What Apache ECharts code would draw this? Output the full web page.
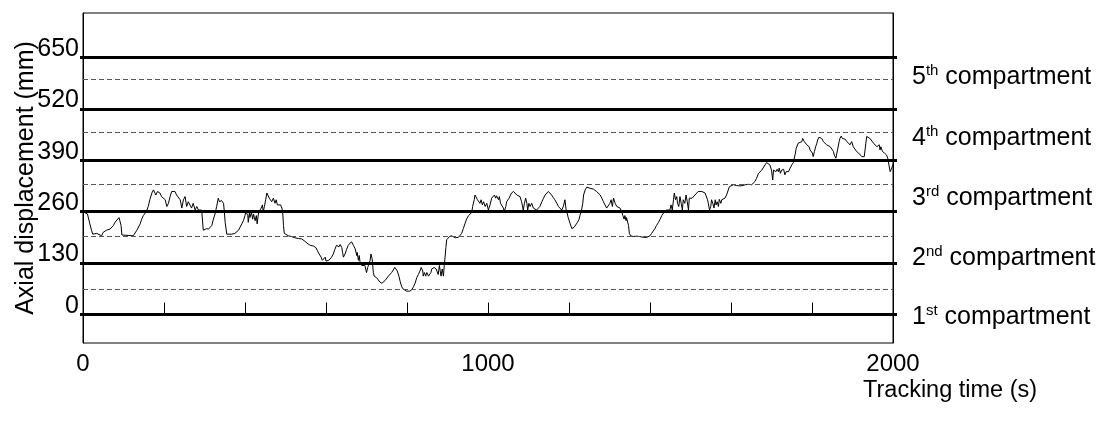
<!DOCTYPE html>
<html><head><meta charset="utf-8">
<script src="https://cdn.jsdelivr.net/npm/echarts@6/dist/echarts.min.js"></script>
<style>html,body{margin:0;padding:0;background:#fff}#c{width:1103px;height:425px}</style>
</head><body><div id="c"></div>
<script>
// [tracking time (s), axial displacement (mm)]
const trace = [
[0,260],[11,254],[17,229],[21,213],[24,203],[34,205],[38,201],[46,199],[50,208],[58,213],[67,216],[75,225],[79,233],[83,237],[89,245],[91,237],[94,225],[96,201],[124,199],[128,203],[133,213],[141,229],[145,241],[149,250],[157,261],[161,273],[165,290],[170,307],[174,315],[178,311],[180,302],[184,311],[190,307],[194,298],[198,302],[203,290],[207,273],[211,281],[215,298],[219,311],[223,307],[227,311],[231,302],[235,298],[240,290],[244,269],[248,290],[252,298],[256,273],[260,285],[264,290],[268,269],[272,281],[277,264],[281,273],[285,264],[289,269],[293,264],[296,261],[297,213],[301,209],[305,217],[310,216],[314,221],[318,225],[322,241],[326,254],[330,273],[334,294],
[337,285],[340,281],[342,288],[347,281],[349,260],[351,233],[355,203],[359,199],[367,203],[375,205],[379,205],[384,213],[388,221],[392,229],[396,237],[400,250],[402,260],[404,264],[407,250],[408,233],[411,258],[412,245],[416,258],[419,241],[421,254],[425,237],[428,250],[430,229],[433,254],[435,260],[440,269],[443,277],[445,260],[448,273],[451,290],[454,307],[456,311],[458,307],[460,294],[462,298],[466,285],[470,294],[474,281],[477,290],[480,277],[484,281],[488,277],[491,269],[493,260],[495,225],[497,205],[500,201],[507,199],[515,197],[523,194],[532,192],[540,191],[544,189],[548,185],[552,180],[556,178],[561,175],[565,177],[569,173],[573,175],[575,169],[579,161],[583,153],[588,145],[591,137],[593,132],[598,145],[600,135],[604,135],[607,137],[610,141],[614,145],[618,153],[622,165],[626,175],[629,180],[632,171],[635,177],[639,169],[641,157],[643,145],[647,153],[651,165],[655,175],[659,180],[663,184],
[668,174],[672,166],[676,149],[677,157],[680,137],[682,149],[684,133],[688,124],[692,128],[696,124],[700,106],[703,119],[706,128],[709,137],[711,153],[714,141],[715,128],[717,106],[719,97],[721,97],[725,93],[729,88],[733,82],[738,79],[742,84],[746,86],[750,91],[754,97],[758,101],[762,106],[766,110],[770,119],[773,124],[776,110],[780,97],[783,84],[787,70],[791,64],[795,62],[799,59],[803,57],[807,59],[812,63],[816,70],[820,79],[824,93],[828,101],[832,110],[835,119],[836,124],[839,110],[840,97],[843,106],[846,97],[849,106],[853,97],[855,101],[859,106],[861,115],[863,110],[867,119],[869,124],[872,115],[875,119],[877,101],[880,124],[882,110],[884,97],[887,115],[890,97],[892,124],[894,145],[896,169],[898,189],[901,194],[905,197],[910,199],[919,194],[927,195],[931,197],[935,205],[939,217],[943,229],[947,241],[952,250],[956,251],[960,258],[962,273],[966,290],[968,302],[970,298],[974,290],[976,294],[980,281],[983,290],[986,277],[989,285],[993,273],[997,281],[1001,264],[1005,277],
[1009,294],[1013,290],[1016,302],[1019,294],[1021,300],[1026,290],[1028,298],[1031,281],[1034,277],[1038,269],[1040,260],[1044,273],[1046,285],[1049,281],[1052,294],[1055,298],[1058,307],[1063,311],[1067,307],[1071,302],[1075,305],[1079,298],[1083,285],[1087,264],[1090,281],[1093,294],[1096,281],[1098,264],[1101,281],[1104,273],[1108,281],[1112,269],[1116,273],[1120,264],[1124,264],[1128,273],[1133,285],[1137,294],[1141,302],[1145,307],[1149,311],[1153,308],[1157,302],[1161,296],[1165,290],[1170,281],[1174,273],[1178,269],[1182,264],[1186,273],[1190,290],[1193,264],[1196,254],[1198,245],[1201,250],[1203,229],[1207,217],[1209,215],[1213,221],[1217,225],[1221,233],[1225,241],[1227,250],[1231,264],[1234,281],[1236,302],[1240,315],[1244,322],[1248,323],[1252,319],[1256,319],[1260,317],[1264,313],[1268,311],[1272,307],[1277,302],[1281,294],[1285,285],[1289,277],[1293,269],[1297,264],[1301,281],[1304,290],[1307,273],[1310,294],[1314,281],[1318,273],[1322,269],
[1326,269],[1330,260],[1333,250],[1336,241],[1338,250],[1341,237],[1342,245],[1344,250],[1347,225],[1349,205],[1352,199],[1359,197],[1367,198],[1375,197],[1384,195],[1392,195],[1396,197],[1400,199],[1404,205],[1408,211],[1412,217],[1416,225],[1421,233],[1425,241],[1429,250],[1433,256],[1437,260],[1441,264],[1445,269],[1449,264],[1452,277],[1455,264],[1458,290],[1460,307],[1463,290],[1466,298],[1468,281],[1471,273],[1474,298],[1477,281],[1480,264],[1482,290],[1486,281],[1489,302],[1492,285],[1495,264],[1497,294],[1500,290],[1504,294],[1507,298],[1511,302],[1515,307],[1519,311],[1523,315],[1528,311],[1532,307],[1536,307],[1538,302],[1542,290],[1544,281],[1547,264],[1550,273],[1552,290],[1555,281],[1558,269],[1561,290],[1563,277],[1566,285],[1569,273],[1571,291],[1575,281],[1577,290],[1581,290],[1585,294],[1589,302],[1593,307],[1596,323],[1599,328],[1606,328],[1614,326],[1622,325],[1626,328],[1630,326],[1635,328],[1639,328],[1643,329],[1647,325],[1651,328],[1655,332],[1659,336],
[1663,344],[1668,357],[1672,361],[1676,365],[1680,370],[1684,378],[1688,384],[1692,387],[1696,378],[1700,365],[1703,340],[1705,365],[1709,370],[1711,361],[1714,367],[1717,361],[1719,370],[1722,357],[1725,365],[1728,361],[1730,367],[1733,353],[1736,361],[1738,365],[1742,361],[1746,370],[1750,378],[1754,384],[1756,387],[1759,408],[1761,420],[1764,424],[1766,433],[1770,429],[1775,437],[1777,445],[1780,450],[1781,437],[1784,433],[1787,429],[1789,433],[1793,424],[1795,416],[1798,420],[1801,408],[1803,399],[1806,412],[1809,424],[1812,433],[1814,441],[1817,448],[1821,443],[1824,445],[1828,437],[1832,433],[1836,429],[1840,433],[1845,424],[1849,420],[1853,412],[1855,403],[1859,395],[1861,399],[1863,416],[1867,437],[1869,445],[1872,451],[1875,445],[1877,441],[1882,443],[1886,437],[1890,433],[1894,429],[1898,437],[1902,424],[1906,420],[1910,412],[1915,408],[1919,403],[1923,399],[1927,395],[1929,399],[1933,433],[1935,450],[1939,450],[1943,445],[1947,441],[1952,433],[1956,429],[1960,424],[1962,420],[1966,429],[1968,416],[1970,424],[1974,412],[1976,416],[1979,408],[1982,412],[1984,403],[1987,395],[1990,391],[1993,361],[1995,365],[1997,370],[2000,380]
];
const compartmentLines = [0, 130, 260, 390, 520, 650];
const boundaryLines = [64, 197, 329, 461, 594];
const yTickLabels = [0, 130, 260, 390, 520, 650];
const xTickLabels = [0, 1000, 2000];
const compartmentLabelY = [-6, 143, 294, 446, 599];
const compartmentNumbers = ['1', '2', '3', '4', '5'];
const compartmentSuffixes = ['st', 'nd', 'rd', 'th', 'th'];
const xTitle = 'Tracking time (s)';
const yTitle = 'Axial displacement (mm)';

const FONT = '"Liberation Sans", Arial, sans-serif';
const FS = 25;
const chart = echarts.init(document.getElementById('c'), null, {renderer: 'canvas'});
chart.setOption({
  animation: false,
  backgroundColor: '#fff',
  grid: {left: 83, top: 13, width: 810, height: 330, show: true, borderColor: '#000', borderWidth: 1,
    containLabel: false, outerBoundsMode: 'none'},
  xAxis: {
    type: 'value', min: 0, max: 2000, interval: 200,
    axisLine: {show: true, lineStyle: {color: '#000', width: 1}},
    axisTick: {show: true, inside: true, length: 12, lineStyle: {color: '#000', width: 1}},
    axisLabel: {customValues: xTickLabels, fontSize: 24, color: '#000', fontFamily: FONT, margin: 9,
      formatter: v => String(v)},
    splitLine: {show: false}
  },
  yAxis: [{
    type: 'value', min: -72, max: 762, position: 'left',
    axisLine: {show: true, lineStyle: {color: '#000', width: 1}},
    axisTick: {show: true, customValues: yTickLabels, length: 3, lineStyle: {color: '#000', width: 3}},
    axisLabel: {customValues: yTickLabels, fontSize: FS, color: '#000', fontFamily: FONT, margin: 4,
      verticalAlign: 'bottom', lineHeight: 17, formatter: v => String(v)},
    splitLine: {show: false},
    name: yTitle, nameLocation: 'middle', nameGap: 44, nameMoveOverlap: false,
    nameTextStyle: {fontSize: FS, color: '#000', fontFamily: FONT}
  }, {
    type: 'value', min: -72, max: 762, position: 'right',
    axisLine: {show: true, lineStyle: {color: '#000', width: 1}},
    axisTick: {show: true, customValues: compartmentLines, length: 4, lineStyle: {color: '#000', width: 3}},
    axisLabel: {
      customValues: compartmentLabelY, margin: 19, color: '#000', fontFamily: FONT,
      formatter: function (v) {
        const i = compartmentLabelY.indexOf(v);
        if (i < 0) return '';
        return '{n|' + compartmentNumbers[i] + '}{s|' + compartmentSuffixes[i] + '}{n| compartment}';
      },
      rich: {
        n: {fontSize: FS, color: '#000', fontFamily: FONT, lineHeight: 28},
        s: {fontSize: 15, color: '#000', fontFamily: FONT, lineHeight: 19, verticalAlign: 'top'}
      }
    },
    splitLine: {show: false}
  }],
  graphic: [{
    type: 'text', left: 863, top: 379,
    style: {text: xTitle, fontSize: 23.5, fill: '#000', fontFamily: FONT}
  }],
  series: [{
    type: 'line', data: trace, showSymbol: false, symbol: 'none',
    lineStyle: {color: '#000', width: 1}, z: 3,
    markLine: {
      silent: true, symbol: ['none', 'none'], label: {show: false}, animation: false,
      data: compartmentLines.map(v => ({yAxis: v, lineStyle: {type: 'solid', width: 3, color: '#000'}}))
        .concat(boundaryLines.map(v => ({yAxis: v, lineStyle: {type: [5, 3], width: 1, color: '#555'}})))
    }
  }]
});
</script></body></html>
